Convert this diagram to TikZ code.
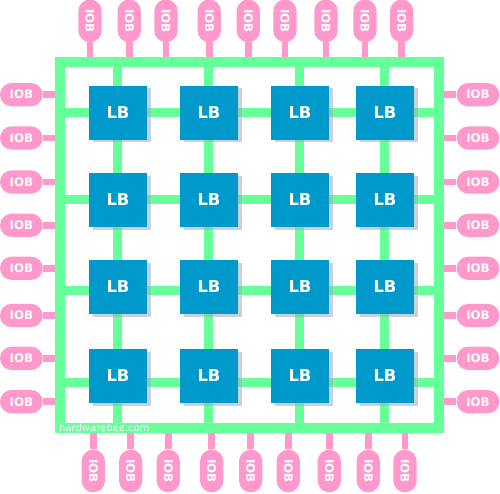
\documentclass[tikz,border=0pt]{standalone}
\usepackage{fontspec}
\setmainfont{DejaVu Sans}
\begin{document}
\begin{tikzpicture}[x=1pt,y=-1pt]
\definecolor{grn}{HTML}{66FF99}
\definecolor{pnk}{HTML}{FF99CC}
\definecolor{lbblue}{HTML}{0099CC}
\definecolor{shd}{RGB}{160,172,190}
\tikzset{
  wire/.style={grn, line width=9pt},
  frameline/.style={grn, line width=10pt},
  stem/.style={pnk, line width=6.5pt},
  iob/.style={fill=pnk, minimum width=42.7pt, minimum height=23.3pt, rounded corners=11.6pt,
    inner sep=0pt, text=white, font=\bfseries\fontsize{11.8}{12}\selectfont},
  lb/.style={fill=lbblue, minimum width=58pt, minimum height=54pt, inner sep=0pt,
    text=white, font=\bfseries\fontsize{16.4}{18}\selectfont},
  lbshadow/.style={fill=shd, opacity=0.55},
  wmark/.style={text=white, inner sep=0pt, font=\fontsize{10}{12}\selectfont}
}
\useasboundingbox (0,0) rectangle (500,493);
% frame corners
\coordinate (fNW) at (60,62);
\coordinate (fSE) at (438.5,428);
% top IOBs
\foreach \x [count=\i] in {90,129.3,166,209.3,248.3,285,326,365,401.7} {
  \node[iob, rotate=-90] (iobt\i) at (\x,20.85) {IOB};
  \coordinate (ct\i) at (\x,62);
  \draw[stem] (iobt\i.east) -- (ct\i);
}
% bottom IOBs
\foreach \x [count=\i] in {93.3,130.7,168.3,211.7,250.7,288.3,329.3,368.3,405} {
  \node[iob, rotate=-90] (iobb\i) at (\x,471) {IOB};
  \coordinate (cb\i) at (\x,428);
  \draw[stem] (iobb\i.west) -- (cb\i);
}
% left and right IOBs
\foreach \y [count=\i] in {94.7,138,182,225.3,268.3,315.5,358.3,401.7} {
  \node[iob] (iobl\i) at (21.35,\y) {IOB};
  \coordinate (cl\i) at (60,\y);
  \draw[stem] (iobl\i.east) -- (cl\i);
  \node[iob] (iobr\i) at (478,\y) {IOB};
  \coordinate (cr\i) at (438.5,\y);
  \draw[stem] (iobr\i.west) -- (cr\i);
}
% routing wires
\foreach \x [count=\i] in {117.5,208.5,299,384.5} {
  \coordinate (wt\i) at (\x,62);
  \coordinate (wb\i) at (\x,428);
  \draw[wire] (wt\i) -- (wb\i);
}
\foreach \y [count=\i] in {112,199.5,290,382} {
  \coordinate (wl\i) at (60,\y);
  \coordinate (wr\i) at (438.5,\y);
  \draw[wire] (wl\i) -- (wr\i);
}
% frame
\draw[frameline] (fNW) rectangle (fSE);
% logic blocks
\foreach \cx [count=\i] in {118,209,300,385} {
  \foreach \cy [count=\j] in {112.5,200,287,376} {
    \fill[lbshadow] (\cx-25.5,\cy-24.5) rectangle (\cx+32.5,\cy+29.5);
    \node[lb] (lb\j\i) at (\cx,\cy) {LB};
  }
}
% watermark
\node[wmark, anchor=base west] (wm) at (59,431.5) {hardwarebee.com};
\end{tikzpicture}
\end{document}
